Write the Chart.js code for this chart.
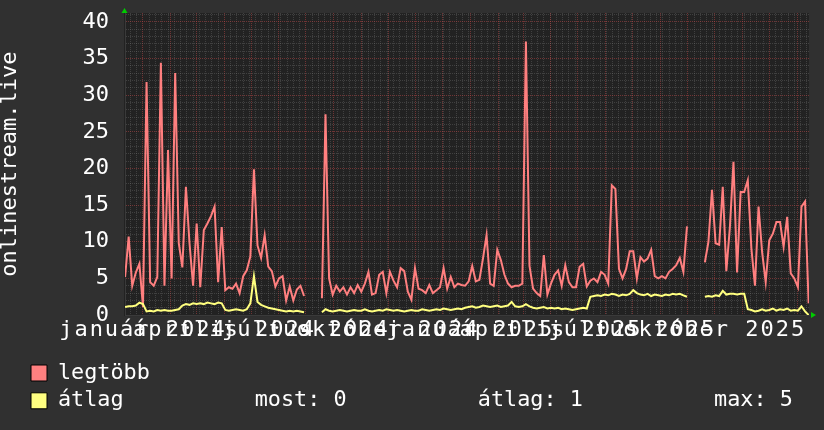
<!DOCTYPE html>
<html>
<head>
<meta charset="utf-8">
<script src="https://cdn.jsdelivr.net/npm/chart.js@4/dist/chart.umd.min.js"></script>
<style>
html,body{margin:0;padding:0;background:#303030;}
canvas{display:block;}
</style>
</head>
<body>
<canvas id="c" width="824" height="430"></canvas>
<script>
// ---- data (days counted from 2024-01-01) ----
const SERIES_NAMES = ['legtöbb', 'átlag'];
const AXIS_TITLE = 'onlinestream.live';
const ORIGIN_DATE = '2024-01-01';
const START_DAY = -20;      // first sample: 2023-12-12
const STEP_DAYS = 4;        // one sample every 4 days
const X_MIN_DAY = -20.1;
const X_MAX_DAY = 744.4;
const Y_MAX = 41.2;

const legtobb = [
  5.2,10.7,4.0,5.8,7.0,1.1,31.8,4.5,4.0,5.2,
  34.4,4.0,22.5,5.0,33.0,9.8,6.5,17.5,9.8,4.0,
  12.5,3.8,11.6,12.5,13.5,14.8,4.5,12.0,3.4,3.8,
  3.6,4.3,3.0,5.3,6.1,8.0,19.9,9.5,7.8,10.9,
  6.6,6.0,3.9,5.0,5.3,2.0,3.9,2.0,3.5,4.0,
  2.6,null,null,null,null,2.3,27.4,5.0,2.8,4.0,
  3.2,3.8,2.8,3.8,3.0,4.1,3.2,4.3,5.9,2.8,
  3.0,5.5,5.9,3.0,5.9,4.7,3.8,6.4,6.0,3.2,
  2.1,6.4,3.6,3.4,3.0,4.1,3.0,3.4,3.8,6.4,
  3.6,5.2,3.8,4.3,4.1,4.0,4.6,6.7,4.6,4.8,
  7.7,10.9,4.3,4.0,8.9,7.5,5.5,4.3,3.8,4.0,
  4.0,4.3,37.3,6.7,3.6,3.0,2.6,8.2,2.8,4.3,
  5.5,6.1,4.0,6.8,4.5,3.8,3.8,6.6,7.0,3.9,
  4.7,5.0,4.5,5.9,5.5,4.3,17.7,17.2,6.3,5.0,
  6.3,8.7,8.7,5.0,7.9,7.3,7.7,8.9,5.3,5.0,
  5.3,5.0,5.9,6.3,6.8,7.8,5.9,12.1,null,null,
  null,null,7.2,10.0,17.1,9.8,9.6,17.5,6.0,12.0,
  20.9,5.8,16.8,16.8,18.4,9.1,4.0,14.8,8.6,4.5,
  10.2,11.1,12.7,12.7,9.3,13.4,5.7,5.0,3.8,14.8,
  15.5,1.6
];

const atlag = [
  1.1,1.2,1.2,1.3,1.7,1.5,0.5,0.6,0.5,0.7,
  0.6,0.7,0.6,0.6,0.7,0.8,1.3,1.5,1.4,1.6,
  1.5,1.6,1.5,1.7,1.6,1.5,1.7,1.6,0.7,0.6,
  0.7,0.8,0.7,0.6,0.8,1.6,5.3,1.8,1.4,1.2,
  1.0,0.9,0.8,0.7,0.6,0.5,0.6,0.5,0.6,0.5,
  0.4,null,null,null,null,0.4,0.8,0.6,0.5,0.6,
  0.7,0.6,0.5,0.6,0.7,0.6,0.6,0.8,0.6,0.5,
  0.6,0.7,0.6,0.8,0.7,0.6,0.7,0.6,0.5,0.6,
  0.7,0.6,0.6,0.8,0.7,0.6,0.7,0.8,0.7,0.9,
  0.8,0.7,0.8,0.9,0.8,1.0,1.1,1.2,1.0,1.1,
  1.3,1.2,1.1,1.2,1.3,1.1,1.2,1.3,1.8,1.2,
  1.1,1.2,1.5,1.2,1.0,0.9,1.0,1.1,0.9,1.0,
  0.9,1.0,0.8,0.9,0.8,0.7,0.8,0.9,1.0,0.9,
  2.5,2.6,2.7,2.6,2.8,2.7,2.9,2.8,2.6,2.8,
  2.7,2.9,3.4,3.0,2.8,2.7,2.9,2.6,2.8,2.7,
  2.6,2.8,2.7,2.9,2.8,2.9,2.7,2.5,null,null,
  null,null,2.5,2.6,2.5,2.7,2.6,3.3,2.8,2.9,
  2.9,2.8,2.9,2.9,0.8,0.7,0.5,0.6,0.8,0.6,
  0.7,0.9,0.6,0.8,0.7,0.9,0.6,0.7,0.6,1.2,
  0.5,0
];

const tickLabelDates = ['2024-01-01','2024-04-01','2024-07-01','2024-10-01',
                        '2025-01-01','2025-04-01','2025-07-01','2025-10-01'];
const tickLabels = ['január 2024','április 2024','július 2024','október 2024',
                    'január 2025','április 2025','július 2025','október 2025'];

const COLORS = ['#ff7f7f', '#ffff7f'];
const FONT = 'DejaVu Sans Mono';
const MINOR = 'rgba(128,128,128,0.32)';
const MAJOR = 'rgba(190,70,70,0.5)';

// ---- helpers ----
const DAY = 86400000;
const originMs = Date.parse(ORIGIN_DATE + 'T00:00:00Z');
const dayOf = s => Math.round((Date.parse(s + 'T00:00:00Z') - originMs) / DAY);

const toPoints = arr => arr.map((v, i) => ({x: START_DAY + i * STEP_DAYS, y: v}));

const labelByDay = {};
tickLabelDates.forEach((d, i) => { labelByDay[dayOf(d)] = tickLabels[i]; });

// month starts (major grid) and weekly lines (minor grid)
const monthDays = new Set();
for (let y = 2023; y <= 2026; y++) {
  for (let m = 0; m < 12; m++) {
    const d = Math.round((Date.UTC(y, m, 1) - originMs) / DAY);
    if (d >= X_MIN_DAY && d <= X_MAX_DAY) monthDays.add(d);
  }
}
const xTickSet = new Set(monthDays);
for (let d = Math.ceil(X_MIN_DAY / 7) * 7; d <= X_MAX_DAY; d += 7) xTickSet.add(d);
const xTicks = Array.from(xTickSet).sort((a, b) => a - b);

// legend stats (of átlag)
const avgVals = atlag.filter(v => v !== null);
const statNow = avgVals[avgVals.length - 1];
const statMean = avgVals.reduce((a, b) => a + b, 0) / avgVals.length;
const statMax = Math.max(...avgVals);
const statsText = SERIES_NAMES[1].padEnd(15) +
  ('most: ' + statNow.toFixed(0)).padEnd(17) +
  ('átlag: ' + statMean.toFixed(0)).padEnd(18) +
  'max: ' + statMax.toFixed(0);

const decor = {
  id: 'decor',
  beforeDraw(chart) {
    const a = chart.chartArea, ctx = chart.ctx;
    ctx.save();
    ctx.fillStyle = '#222222';
    ctx.fillRect(a.left - 1, a.top, a.right - a.left + 1, a.bottom - a.top + 1);
    ctx.restore();
  },
  afterDatasetsDraw(chart) { chart.ctx.letterSpacing = '2px'; },
  afterDraw(chart) {
    const ctx = chart.ctx;
    ctx.letterSpacing = '0px';
    const a = chart.chartArea;
    ctx.save();
    ctx.fillStyle = '#00cc00';
    ctx.beginPath();
    ctx.moveTo(a.left - 3.5, a.top);
    ctx.lineTo(a.left + 2.5, a.top);
    ctx.lineTo(a.left - 0.5, a.top - 5);
    ctx.closePath();
    ctx.fill();
    ctx.beginPath();
    ctx.moveTo(a.right + 2, a.bottom - 3);
    ctx.lineTo(a.right + 2, a.bottom + 3);
    ctx.lineTo(a.right + 7, a.bottom);
    ctx.closePath();
    ctx.fill();
    ctx.restore();
  }
};

new Chart(document.getElementById('c'), {
  type: 'line',
  data: {
    datasets: [
      {label: SERIES_NAMES[0], data: toPoints(legtobb), borderColor: COLORS[0],
       borderWidth: 2, pointRadius: 0, tension: 0, fill: false, spanGaps: false, order: 1},
      {label: SERIES_NAMES[1], data: toPoints(atlag), borderColor: COLORS[1],
       borderWidth: 2, pointRadius: 0, tension: 0, fill: false, spanGaps: false, order: 0}
    ]
  },
  options: {
    responsive: false,
    animation: false,
    devicePixelRatio: 1,
    events: [],
    layout: {padding: {left: 25, right: 15, top: 13, bottom: 8.3}},
    plugins: {
      tooltip: {enabled: false},
      legend: {
        position: 'bottom',
        align: 'start',
        labels: {
          boxWidth: 16,
          boxHeight: 16,
          padding: 6,
          color: '#ffffff',
          font: {family: FONT, size: 21.8},
          generateLabels: () => [
            {text: SERIES_NAMES[0], fillStyle: '#ff8080', strokeStyle: '#000000', lineWidth: 1,
             fontColor: '#ffffff', hidden: false, datasetIndex: 0},
            {text: statsText, fillStyle: '#ffff80', strokeStyle: '#000000', lineWidth: 1,
             fontColor: '#ffffff', hidden: false, datasetIndex: 1}
          ]
        }
      }
    },
    scales: {
      x: {
        type: 'linear',
        min: X_MIN_DAY,
        max: X_MAX_DAY,
        afterBuildTicks: s => { s.ticks = xTicks.map(v => ({value: v})); },
        afterFit: s => { s.height = 41; s.paddingLeft = 0; s.paddingRight = 0; },
        ticks: {
          autoSkip: false, maxRotation: 0, minRotation: 0, padding: 4, z: 1,
          color: '#ffffff',
          font: {family: FONT, size: 22, lineHeight: 1},
          callback: v => labelByDay[v] || ''
        },
        grid: {
          drawTicks: false,
          lineWidth: 1,
          color: c => (c.tick && monthDays.has(c.tick.value)) ? MAJOR : MINOR
        },
        border: {display: true, color: '#3a3a3a', dash: [1, 1]}
      },
      y: {
        position: 'left',
        min: 0,
        max: Y_MAX,
        afterBuildTicks: s => { const t = []; for (let v = 0; v <= 41; v++) t.push({value: v}); s.ticks = t; },
        afterFit: s => { s.width = 100; s.paddingTop = 11; s.paddingBottom = 11; },
        ticks: {
          autoSkip: false, padding: 16,
          color: '#ffffff',
          font: {family: FONT, size: 22, lineHeight: 1},
          callback: v => (v % 5 === 0 ? String(v) : '')
        },
        grid: {
          drawTicks: false,
          lineWidth: 1,
          color: c => (c.tick && c.tick.value % 5 === 0) ? MAJOR : MINOR
        },
        border: {display: true, color: '#3a3a3a', dash: [1, 1]},
        title: {
          display: true, text: AXIS_TITLE, color: '#ffffff',
          font: {family: FONT, size: 22, lineHeight: 1},
          padding: {top: -25.3, bottom: 0}
        }
      }
    }
  },
  plugins: [decor]
});
</script>
</body>
</html>
